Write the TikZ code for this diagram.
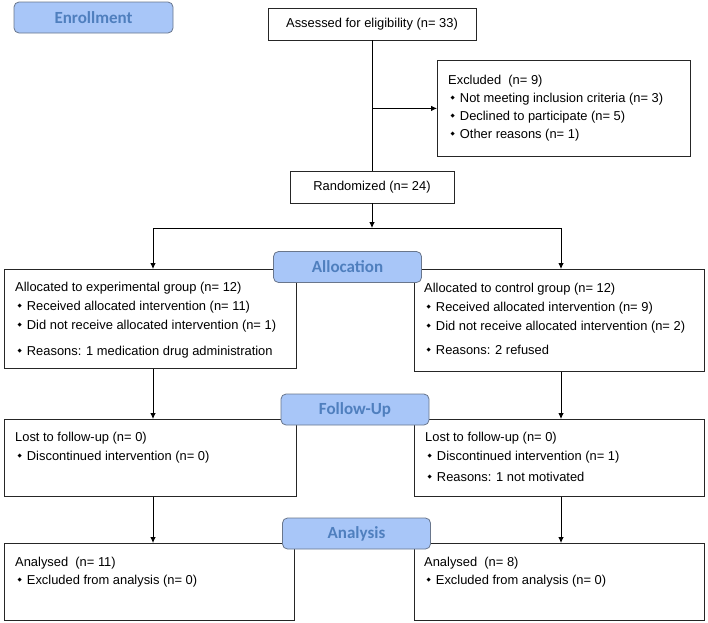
\documentclass[tikz,border=0pt]{standalone}
\usepackage{fontspec}
\setmainfont{Liberation Sans}
\newfontfamily\headfont{Carlito}
\newfontfamily\diafont{DejaVu Sans}
\usetikzlibrary{positioning}
\usetikzlibrary{arrows.meta}
\definecolor{headfill}{RGB}{168,198,248}
\definecolor{headline}{RGB}{105,118,140}
\definecolor{headtext}{RGB}{79,127,190}
\newcommand{\bul}{\hspace*{2.5pt}\raisebox{2.6pt}{\diafont\fontsize{5.5}{5.5}\selectfont ◆}\hspace{5pt}}

\begin{document}
\begin{tikzpicture}[x=1pt, y=-1pt, >={Latex[length=6pt,width=5.5pt]},
  box/.style={draw=black!85, line width=0.8pt, anchor=north west, inner sep=0pt, font=\fontsize{12.9}{19}\selectfont},
  txt/.style={anchor=north west, inner sep=0pt, align=left, font=\fontsize{12.9}{19}\selectfont},
  head/.style={draw=headline, line width=0.8pt, fill=headfill, rounded corners=5pt, minimum width=148pt, minimum height=31pt, text=headtext, font=\headfont\bfseries\fontsize{17}{17}\selectfont},
  line/.style={line width=0.8pt}]

\useasboundingbox (0,0) rectangle (708,622);

% Enrollment
\node[box, anchor=center, minimum width=208pt, minimum height=32pt] (assess) at (372,24) {Assessed for eligibility (n= 33)};
\node[box, minimum width=253pt, minimum height=96pt] (excl) at (437,60) {};
\node[txt, font=\fontsize{12.9}{18}\selectfont] (excltxt) at (448,75) {Excluded\ \ (n= 9)\\ \bul Not meeting inclusion criteria (n= 3)\\ \bul Declined to participate (n= 5)\\ \bul Other reasons (n= 1)};
\node[box, anchor=center, minimum width=164pt, minimum height=32pt] (rand) at (372,187) {Randomized (n= 24)};

\draw[line] (assess) -- (rand);
\draw[line,->] (assess.south |- excl.west) -- (excl.west);

% Allocation
\node[box, minimum width=292pt, minimum height=99pt] (expA) at (4,269) {};
\node[box, minimum width=290pt, minimum height=102pt] (ctrlA) at (414,269) {};
\node[txt] (expAt) at (15,282) {Allocated to experimental group (n= 12)\\ \bul Received allocated intervention (n= 11)\\ \bul Did not receive allocated intervention (n= 1)\\[7pt] \bul Reasons: 1 medication drug administration};
\node[txt] (ctrlAt) at (424,283) {Allocated to control group (n= 12)\\ \bul Received allocated intervention (n= 9)\\ \bul Did not receive allocated intervention (n= 2)\\[5pt] \bul Reasons: 2 refused};

\coordinate (split) at (372,228);
\coordinate (lcol) at (153,0);
\coordinate (rcol) at (561,0);
\draw[line,->] (rand) -- (split);
\draw[line] (lcol |- split) -- (rcol |- split);
\draw[line,->] (lcol |- split) -- (lcol |- expA.north);
\draw[line,->] (rcol |- split) -- (rcol |- ctrlA.north);

% Follow-up
\node[box, minimum width=292pt, minimum height=77pt] (expF) at (4,419) {};
\node[box, minimum width=290pt, minimum height=77pt] (ctrlF) at (414,419) {};
\node[txt] (expFt) at (15,432) {Lost to follow-up (n= 0)\\ \bul Discontinued intervention (n= 0)};
\node[txt] (ctrlFt) at (425,432) {Lost to follow-up (n= 0)\\ \bul Discontinued intervention (n= 1)\\[2pt] \bul Reasons: 1 not motivated};

\draw[line,->] (lcol |- expA.south) -- (lcol |- expF.north);
\draw[line,->] (rcol |- ctrlA.south) -- (rcol |- ctrlF.north);

% Analysis
\node[box, minimum width=290pt, minimum height=77pt] (expN) at (4,543) {};
\node[box, minimum width=290pt, minimum height=77pt] (ctrlN) at (414,543) {};
\node[txt, font=\fontsize{12.9}{18}\selectfont] (expNt) at (15,557) {Analysed\ \ (n= 11)\\ \bul Excluded from analysis (n= 0)};
\node[txt, font=\fontsize{12.9}{18}\selectfont] (ctrlNt) at (424,557) {Analysed\ \ (n= 8)\\ \bul Excluded from analysis (n= 0)};

\draw[line,->] (lcol |- expF.south) -- (lcol |- expN.north);
\draw[line,->] (rcol |- ctrlF.south) -- (rcol |- ctrlN.north);

% headers
\node[head, minimum width=159pt] (enroll) at (93.5,17.5) {Enrollment};
\node[head] (alloc) at (347.5,267) {Allocation};
\node[head] (follow) at (355,409.5) {Follow-Up};
\node[head] (analysis) at (356.5,533.5) {Analysis};

\end{tikzpicture}
\end{document}
